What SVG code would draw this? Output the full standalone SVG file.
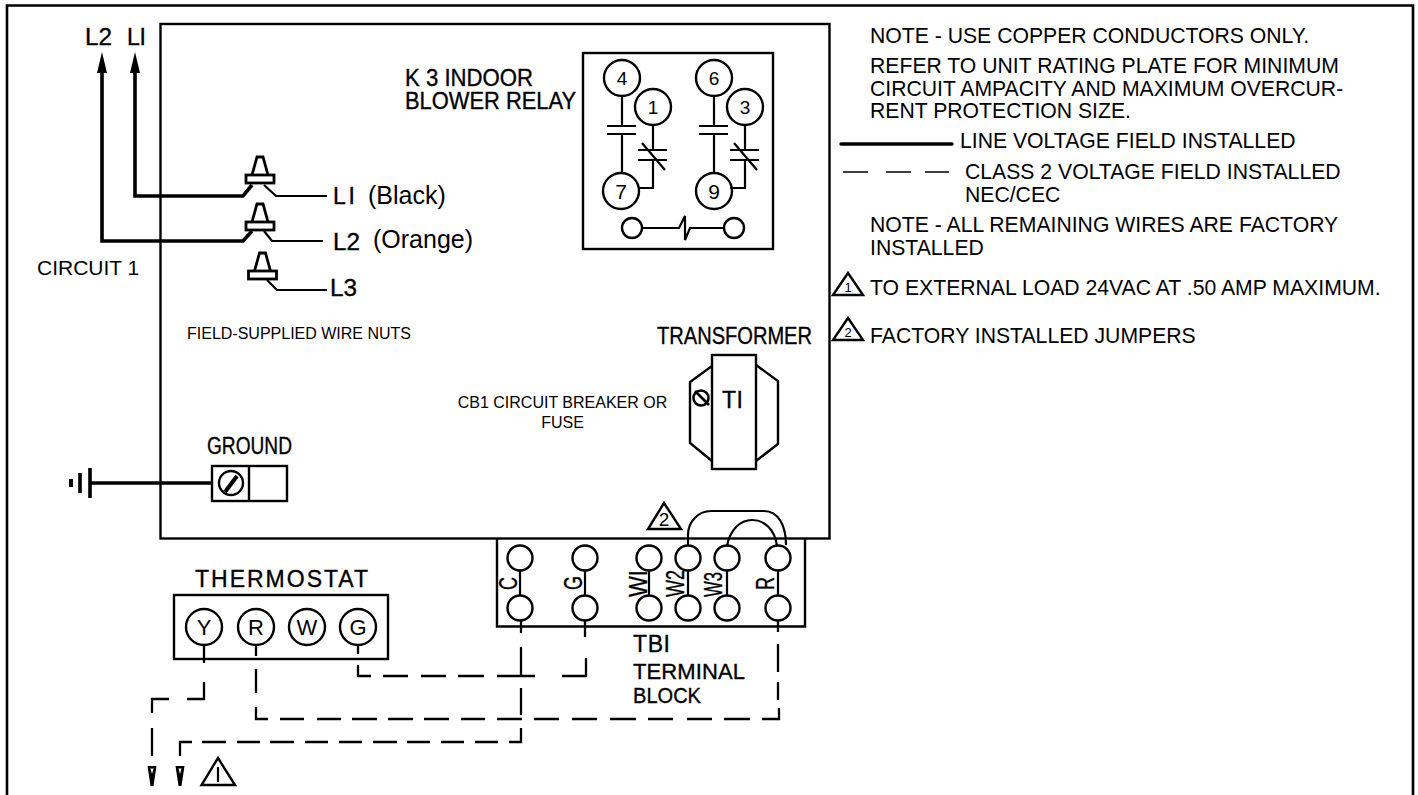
<svg xmlns="http://www.w3.org/2000/svg" width="1418" height="795" viewBox="0 0 1418 795">
<style>
text{font-family:"Liberation Sans",Arial,sans-serif;fill:#000}
.cad{font-size:23px;stroke:#000;stroke-width:.35px}
.cadr{font-size:25px}
.cads{font-size:22px}
.n{font-size:21.200px}
.s{font-size:16px}
.c{text-anchor:middle}
.ln{fill:none;stroke:#000;stroke-width:2.2}
.thick{fill:none;stroke:#000;stroke-width:3.600}
.fl{fill:none;stroke:#000;stroke-width:2.400}
.nb{fill:none;stroke:#000;stroke-width:2.800}
.d{fill:none;stroke:#000;stroke-width:2.300}
</style>
<defs>
<g id="nut"><path class="nb" d="M252 175L257 157H263L268 175"/><rect class="nb" x="246" y="175" width="28" height="8"/></g>
<g id="contacts">
<path class="ln" d="M622 96V126M607 126H636M607 134H636M622 134V173M653 125V150M638 150H667M638 160H667M653 160V188H638M642 143L665 170"/>
</g>
</defs>
<rect id="bg" width="1418" height="795" fill="#fff"/>
<path id="frame" d="M7 795V5.500H1413V795" fill="none" stroke="#000" stroke-width="2.600"/>
<rect id="unit" x="160.500" y="24" width="669" height="514.500" fill="none" stroke="#000" stroke-width="2.400"/>

<g id="connectors">
<path class="thick" d="M135 70V196H243L252 185"/>
<path class="thick" d="M102 70V241H243L252 231"/>
<path d="M135 52L140 73H130ZM102 52L107 73H97Z" fill="#000"/>
<path class="ln" d="M264 185L276 196H327M264 231L272 241H323M267 280L277 290H327"/>
<path class="thick" d="M90 483H212"/>
<path class="thick" d="M90 468V498M80 473V493"/><path d="M71 479V487" stroke="#000" stroke-width="4" fill="none"/>
<path class="d" d="M204 645V663M204 682V699H187M169 699H152V713M152 728V756"/>
<path class="d" d="M180 756V742H192M202 742H226M237 742H260M270 742H294M305 742H328M339 742H362M373 742H397M407 742H430M441 742H464M475 742H498M509 742H521V728M521 715V688M521 676V647M521 633V620"/>
<path class="d" d="M358 645V654M358 665V676H371M383 676H408M421 676H446M458 676H484M497 676H535M562 676H586V658M585 637V620"/>
<path class="d" d="M256 645V656M256 669V693M256 707V719H268M280 719H304M317 719H341M352 719H377M388 719H413M424 719H449M461 719H485M497 719H522M534 719H559M572 719H597M610 719H636M648 719H673M687 719H712M724 719H750M762 719H779V708M778 700V682M778 672V644M778 632V620"/>
<path class="ln" d="M688 546V535C688 521 699 511 711 511H764C778 511 786 525 786 545"/>
<path class="ln" d="M727 546C730 530 740 520 752 520C765 520 775 530 777 546"/>
<path d="M147.500 766H156.500L153.500 786H150.500ZM175.500 766H184.500L181.500 786H178.500Z" fill="#000"/>
<path d="M150.500 768.500H153.500L152 774ZM178.500 768.500H181.500L180 774Z" fill="#fff"/>
</g>

<g id="wire-nuts">
<use href="#nut"/><use href="#nut" y="47"/><use href="#nut" x="2.500" y="96"/>
</g>
<g id="field-labels">
<text class="cad" x="85" y="45" textLength="27" lengthAdjust="spacingAndGlyphs">L2</text><text class="cad" x="127" y="45" textLength="19">LI</text>
<text class="cad" x="333" y="204" textLength="22">LI</text><text x="368" y="204" font-size="25">(Black)</text>
<text class="cad" x="333" y="250" textLength="27" lengthAdjust="spacingAndGlyphs">L2</text><text x="373" y="248" font-size="25">(Orange)</text>
<text class="cad" x="330" y="296" textLength="27" lengthAdjust="spacingAndGlyphs">L3</text>
<text x="37" y="275" font-size="21">CIRCUIT 1</text>
<text class="s" x="187" y="339">FIELD-SUPPLIED WIRE NUTS</text>
<text class="s c" x="562.500" y="408">CB1 CIRCUIT BREAKER OR</text>
<text class="s c" x="562.500" y="428">FUSE</text>
</g>

<g id="relay">
<rect class="fl" x="583" y="53" width="190" height="196"/>
<use href="#contacts"/><use href="#contacts" x="92"/>
<circle class="fl" cx="622" cy="78" r="18"/><circle class="fl" cx="653" cy="107" r="18"/><circle class="fl" cx="621" cy="191" r="18"/>
<circle class="fl" cx="714" cy="78" r="18"/><circle class="fl" cx="745" cy="107" r="18"/><circle class="fl" cx="714" cy="191" r="18"/>
<g font-size="19" text-anchor="middle"><text x="622" y="85">4</text><text x="653" y="114">1</text><text x="714" y="85">6</text><text x="745" y="114">3</text></g>
<g font-size="21" text-anchor="middle"><text x="621" y="199">7</text><text x="714" y="199">9</text></g>
<circle class="fl" cx="632" cy="228" r="10"/><circle class="fl" cx="734" cy="228" r="10"/>
<path class="ln" d="M642 228H679L685 216V240L690 228H724"/>
<text class="cad" x="405" y="85.500" textLength="128" lengthAdjust="spacingAndGlyphs">K 3 INDOOR</text>
<text class="cad" x="405" y="109" textLength="171" lengthAdjust="spacingAndGlyphs">BLOWER RELAY</text>
</g>

<g id="transformer">
<path class="fl" d="M712 366L690 382V443L712 461M756 365L778 381V444L756 461"/>
<rect class="fl" x="712" y="355" width="44" height="114"/>
<circle cx="701" cy="398" r="7.500" fill="none" stroke="#000" stroke-width="2.600"/><path d="M695 391L709 405" stroke="#000" stroke-width="2.600"/>
<text class="cad" x="722" y="408" textLength="21">TI</text>
<text class="cad" x="657" y="344" textLength="155" lengthAdjust="spacingAndGlyphs">TRANSFORMER</text>
</g>

<g id="ground">
<rect class="fl" x="212" y="466" width="75" height="35"/><path class="fl" d="M249 466V501"/>
<circle class="fl" cx="231" cy="483" r="12"/><path d="M225 492L237 476" stroke="#000" stroke-width="4"/>
<text class="cad" x="207" y="454" textLength="85" lengthAdjust="spacingAndGlyphs">GROUND</text>
</g>

<g id="thermostat">
<rect class="fl" x="174" y="595" width="214" height="64"/>
<circle class="fl" cx="204" cy="627" r="18"/><circle class="fl" cx="256" cy="627" r="18"/><circle class="fl" cx="307" cy="627" r="18"/><circle class="fl" cx="358" cy="627" r="18"/>
<g font-size="22" text-anchor="middle"><text x="204" y="635">Y</text><text x="256" y="635">R</text><text x="307" y="635">W</text><text x="358" y="635">G</text></g>
<text class="cad" x="195" y="587" textLength="173">THERMOSTAT</text>
</g>

<g id="terminal-block">
<path class="fl" d="M497 539V626.500H805V539"/>
<path class="ln" d="M520 570V596M585 570V596M649 570V596M688 570V596M727 570V596M778 570V596"/>
<circle class="fl" cx="520" cy="558" r="12.500"/><circle class="fl" cx="585" cy="558" r="12.500"/><circle class="fl" cx="649" cy="558" r="12.500"/><circle class="fl" cx="688" cy="558" r="12.500"/><circle class="fl" cx="727" cy="558" r="12.500"/><circle class="fl" cx="778" cy="558" r="12.500"/>
<circle class="fl" cx="520" cy="608" r="12.500"/><circle class="fl" cx="585" cy="608" r="12.500"/><circle class="fl" cx="649" cy="608" r="12.500"/><circle class="fl" cx="688" cy="608" r="12.500"/><circle class="fl" cx="727" cy="608" r="12.500"/><circle class="fl" cx="778" cy="608" r="12.500"/>
<text class="cad" style="font-size:25px" transform="translate(517 590) rotate(-90)" textLength="13" lengthAdjust="spacingAndGlyphs">C</text>
<text class="cad" style="font-size:25px" transform="translate(582 590) rotate(-90)" textLength="14" lengthAdjust="spacingAndGlyphs">G</text>
<text class="cad" style="font-size:25px" transform="translate(647 597) rotate(-90)" textLength="27" lengthAdjust="spacingAndGlyphs">WI</text>
<text class="cad" style="font-size:25px" transform="translate(684 597) rotate(-90)" textLength="27" lengthAdjust="spacingAndGlyphs">W2</text>
<text class="cad" style="font-size:25px" transform="translate(722 597) rotate(-90)" textLength="25" lengthAdjust="spacingAndGlyphs">W3</text>
<text class="cad" style="font-size:25px" transform="translate(774 590) rotate(-90)" textLength="13" lengthAdjust="spacingAndGlyphs">R</text>
<path class="fl" d="M664 503L681 529H648Z"/>
<text x="664" y="526" font-size="19" text-anchor="middle">2</text>
<text class="cad" x="633" y="652" textLength="37">TBI</text>
<text class="cad" style="font-size:22px" x="633" y="678.500" textLength="112">TERMINAL</text>
<text class="cad" style="font-size:22px" x="633" y="703" textLength="68" lengthAdjust="spacingAndGlyphs">BLOCK</text>
</g>

<g id="external-load-mark">
<path class="fl" d="M218 758L235 785H201.500Z"/><path class="ln" d="M218 767V782"/>
</g>

<g id="notes">
<text class="n" x="870" y="42.500">NOTE - USE COPPER CONDUCTORS ONLY.</text>
<text class="n" x="870" y="72.500">REFER TO UNIT RATING PLATE FOR MINIMUM</text>
<text class="n" x="870" y="95.500">CIRCUIT AMPACITY AND MAXIMUM OVERCUR-</text>
<text class="n" x="870" y="118">RENT PROTECTION SIZE.</text>
<path d="M841 144H952" stroke="#000" stroke-width="3.400" stroke-linecap="round"/>
<text class="n" x="960" y="148">LINE VOLTAGE FIELD INSTALLED</text>
<path d="M843 172H868M886 172H911M925 172H949" stroke="#000" stroke-width="1.400"/>
<text class="n" x="965" y="179">CLASS 2 VOLTAGE FIELD INSTALLED</text>
<text class="n" x="965" y="202">NEC/CEC</text>
<text class="n" x="870" y="232">NOTE - ALL REMAINING WIRES ARE FACTORY</text>
<text class="n" x="870" y="255">INSTALLED</text>
<path class="fl" d="M848 273L863 295H833Z"/><text x="848" y="292" font-size="13" text-anchor="middle">1</text>
<text class="n" x="870" y="295">TO EXTERNAL LOAD 24VAC AT .50 AMP MAXIMUM.</text>
<path class="fl" d="M848 318L863 340H833Z"/><text x="848" y="337" font-size="13" text-anchor="middle">2</text>
<text class="n" x="870" y="343">FACTORY INSTALLED JUMPERS</text>
</g>
</svg>
